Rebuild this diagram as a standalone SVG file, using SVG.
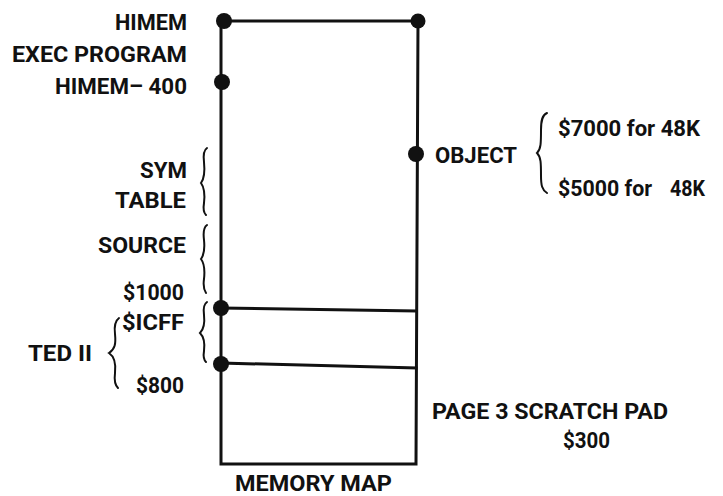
<svg xmlns="http://www.w3.org/2000/svg" width="723" height="496" viewBox="0 0 723 496">
<style>
  text { font-family: Roboto, "Liberation Sans", sans-serif; font-weight: 700; font-size: 22px; fill: #111; }
  .ln { stroke: #111; stroke-width: 3; fill: none; stroke-linecap: square; }
  .br { stroke: #111; stroke-width: 2; fill: none; stroke-linecap: round; }
  .dot { fill: #111; }
</style>
<rect width="723" height="496" fill="#fff"/>
<g id="memory-map-box">
  <path class="ln" d="M223,21 L418,21 M221,21 L221,464 M418,21 L416,464 M221,464 L416,464"/>
</g>
<g id="connectors">
  <path class="ln" d="M221,308 L416,311"/>
  <path class="ln" d="M221,363 L416,368"/>
</g>
<g id="dots">
  <circle class="dot" cx="224" cy="21" r="8"/>
  <circle class="dot" cx="418" cy="21" r="7.5"/>
  <circle class="dot" cx="222" cy="82" r="8"/>
  <circle class="dot" cx="416" cy="154" r="8"/>
  <circle class="dot" cx="221" cy="308" r="8"/>
  <circle class="dot" cx="221" cy="364" r="8"/>
</g>
<g id="braces">
  <path class="br" d="M207,148 C204,150 203,154 204,162 C205,172 204,179 201,183 C204,187 205,194 204,203 C203,209 204,213 206,215"/>
  <path class="br" d="M207,225 C204,227 203,232 204,240 C205,250 204,255 201,259 C204,263 205,270 204,279 C203,286 204,290 206,293"/>
  <path class="br" d="M207,302 C204,304 203,308 204,315 C205,324 204,329 200,333 C204,337 205,343 204,351 C203,357 204,360 206,362"/>
  <path class="br" d="M119,318 C115,321 114,326 115,334 C116,344 115,349 109,353 C115,357 116,364 115,373 C114,381 115,385 118,388"/>
  <path class="br" d="M547,113 C542,115 541,121 541,130 C541,143 541,149 537,153 C541,157 541,163 541,176 C541,185 542,190 547,193"/>
</g>
<g id="label-himem"><text x="115" y="30" textLength="72" lengthAdjust="spacingAndGlyphs">HIMEM</text></g>
<g id="label-exec"><text x="12" y="62" textLength="175" lengthAdjust="spacingAndGlyphs">EXEC PROGRAM</text></g>
<g id="label-himem400"><text x="55" y="94" textLength="132" lengthAdjust="spacingAndGlyphs">HIMEM– 400</text></g>
<g id="label-sym"><text x="140" y="178" textLength="47" lengthAdjust="spacingAndGlyphs">SYM</text></g>
<g id="label-table"><text x="115" y="208" textLength="71" lengthAdjust="spacingAndGlyphs">TABLE</text></g>
<g id="label-source"><text x="98" y="253" textLength="88" lengthAdjust="spacingAndGlyphs">SOURCE</text></g>
<g id="label-1000"><text x="123" y="300" textLength="61" lengthAdjust="spacingAndGlyphs">$1000</text></g>
<g id="label-1cff"><text x="122" y="330" textLength="62" lengthAdjust="spacingAndGlyphs">$ICFF</text></g>
<g id="label-ted"><text x="28" y="361" textLength="64" lengthAdjust="spacingAndGlyphs">TED II</text></g>
<g id="label-800"><text x="136" y="393" textLength="48" lengthAdjust="spacingAndGlyphs">$800</text></g>
<g id="label-object"><text x="435" y="163" textLength="82" lengthAdjust="spacingAndGlyphs">OBJECT</text></g>
<g id="label-7000"><text x="558" y="136" textLength="142" lengthAdjust="spacingAndGlyphs">$7000 for 48K</text></g>
<g id="label-5000"><text x="558" y="196"><tspan textLength="94" lengthAdjust="spacingAndGlyphs">$5000 for</tspan><tspan x="670" textLength="35" lengthAdjust="spacingAndGlyphs">48K</tspan></text></g>
<g id="label-page3"><text x="432" y="419" textLength="236" lengthAdjust="spacingAndGlyphs">PAGE 3 SCRATCH PAD</text></g>
<g id="label-300"><text x="563" y="448" textLength="47" lengthAdjust="spacingAndGlyphs">$300</text></g>
<g id="label-memmap"><text x="235" y="491" textLength="157" lengthAdjust="spacingAndGlyphs">MEMORY MAP</text></g>
</svg>
